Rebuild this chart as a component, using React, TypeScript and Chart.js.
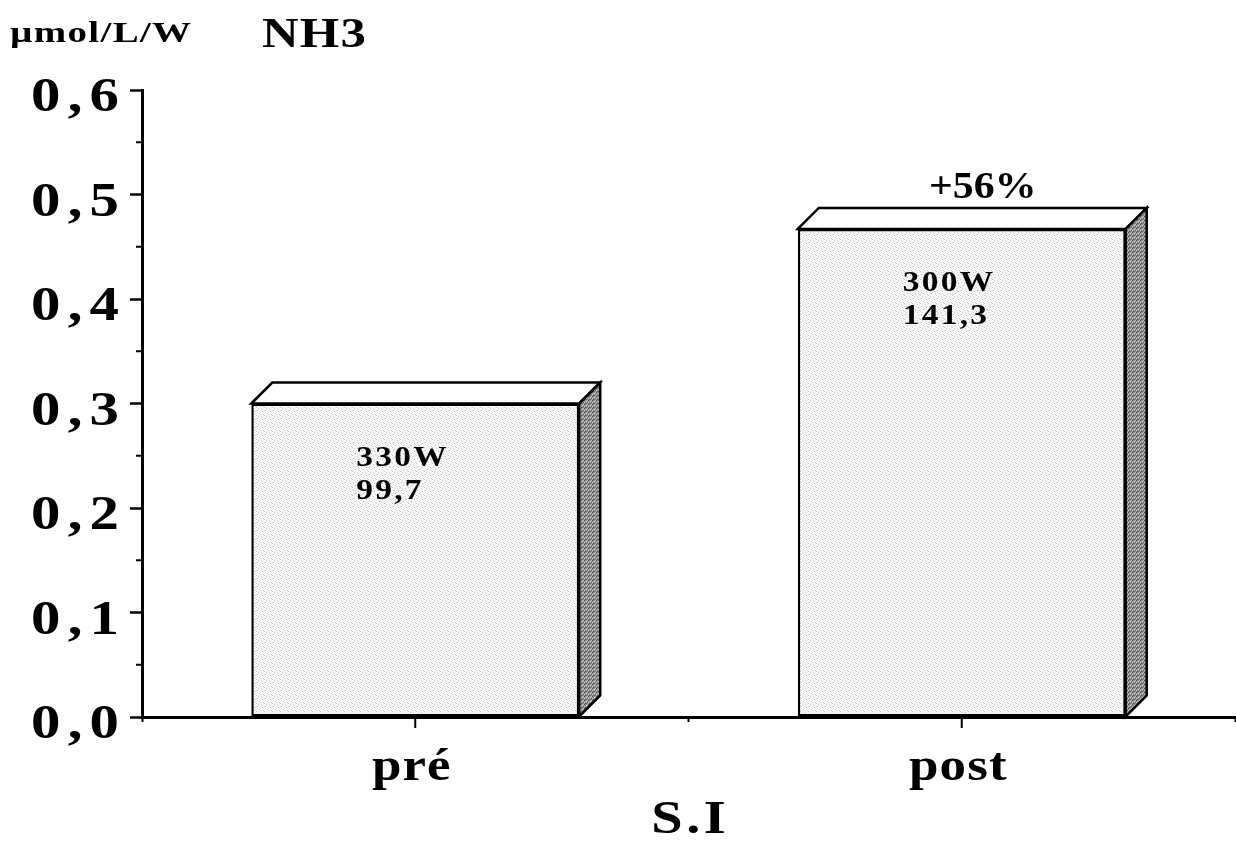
import React, { useEffect, useRef } from 'react';
import { Chart, registerables } from 'chart.js';

Chart.register(...registerables);

const categories = ['pré', 'post'];
const values = [0.3, 0.467];
const powerLabels = ['330W', '300W'];
const rawLabels = ['99,7', '141,3'];
const changeLabels = ['', '+56%'];
const yMin = 0;
const yMax = 0.6;
const yStep = 0.1;
const unitLabel = 'µmol/L/W';
const chartTitle = 'NH3';
const xTitle = 'S.I';

const FONT = "'Liberation Serif', 'Times New Roman', serif";
const DEPTH = 21;

function makePattern(bg: string, dots: [number, number, string][], size: number) {
  const c = document.createElement('canvas');
  c.width = size;
  c.height = size;
  const g = c.getContext('2d') as CanvasRenderingContext2D;
  g.fillStyle = bg;
  g.fillRect(0, 0, size, size);
  dots.forEach(([x, y, col]) => {
    g.fillStyle = col;
    g.fillRect(x, y, 1, 1);
  });
  const ctx = document.createElement('canvas').getContext('2d') as CanvasRenderingContext2D;
  return ctx.createPattern(c, 'repeat') as CanvasPattern;
}

// draw horizontally stretched text (the reference lettering is wide)
function drawText(
  ctx: CanvasRenderingContext2D,
  text: string,
  x: number,
  y: number,
  size: number,
  align: 'left' | 'center' | 'right',
  sx: number,
  spacing: number,
  baseline: CanvasTextBaseline = 'alphabetic'
) {
  ctx.save();
  ctx.font = `bold ${size}px ${FONT}`;
  (ctx as any).letterSpacing = '0px';
  const natural = ctx.measureText(text).width;
  const w = (natural + spacing * (Array.from(text).length - 1)) * sx;
  const left = align === 'center' ? x - w / 2 : align === 'right' ? x - w : x;
  ctx.translate(left, y);
  ctx.scale(sx, 1);
  (ctx as any).letterSpacing = `${spacing}px`;
  ctx.textAlign = 'left';
  ctx.textBaseline = baseline;
  ctx.fillStyle = '#000';
  ctx.fillText(text, 0, 0);
  ctx.restore();
}

export default function App() {
  const ref = useRef<HTMLCanvasElement | null>(null);

  useEffect(() => {
    const canvas = ref.current;
    if (!canvas) return;

    const frontPattern = makePattern(
      '#f6f6f6',
      [
        [1, 2, '#b5b5b5'],
        [5, 0, '#cfcfcf'],
        [3, 5, '#bdbdbd'],
        [7, 6, '#d5d5d5'],
        [0, 7, '#c4c4c4'],
        [6, 3, '#b0b0b0'],
        [2, 0, '#e0e0e0'],
        [4, 2, '#dedede'],
      ],
      8
    );
    const sidePattern = makePattern(
      '#959595',
      [
        [0, 0, '#454545'],
        [2, 1, '#d0d0d0'],
        [1, 3, '#555555'],
        [3, 2, '#606060'],
        [0, 2, '#c8c8c8'],
        [3, 0, '#bdbdbd'],
        [2, 3, '#6f6f6f'],
      ],
      4
    );

    const bar3d = {
      id: 'bar3d',
      afterDatasetsDraw(chart: any) {
        const ctx = chart.ctx as CanvasRenderingContext2D;
        const meta = chart.getDatasetMeta(0);
        meta.data.forEach((bar: any, i: number) => {
          const { x, y, base, width } = bar.getProps(['x', 'y', 'base', 'width'], true);
          const l = x - width / 2;
          const r = x + width / 2;
          ctx.save();
          ctx.lineWidth = 2.5;
          ctx.strokeStyle = '#000';
          ctx.lineJoin = 'miter';
          ctx.beginPath();
          ctx.moveTo(l, y);
          ctx.lineTo(l + DEPTH, y - DEPTH);
          ctx.lineTo(r + DEPTH, y - DEPTH);
          ctx.lineTo(r, y);
          ctx.closePath();
          ctx.fillStyle = '#ffffff';
          ctx.fill();
          ctx.stroke();
          ctx.beginPath();
          ctx.moveTo(r, y);
          ctx.lineTo(r + DEPTH, y - DEPTH);
          ctx.lineTo(r + DEPTH, base - DEPTH);
          ctx.lineTo(r, base);
          ctx.closePath();
          ctx.fillStyle = sidePattern;
          ctx.fill();
          ctx.stroke();
          ctx.restore();

          drawText(ctx, powerLabels[i], x - 59, y + 62, 29, 'left', 1.15, 2);
          drawText(ctx, rawLabels[i], x - 59, y + 95, 29, 'left', 1.15, 2);
          if (changeLabels[i]) {
            drawText(ctx, changeLabels[i], x + DEPTH, y - 31, 38, 'center', 1.1, 0);
          }
        });
      },
      afterDraw(chart: any) {
        const ctx = chart.ctx as CanvasRenderingContext2D;
        const ys = chart.scales.y;
        const xs = chart.scales.x;
        const area = chart.chartArea;
        ctx.save();
        ctx.strokeStyle = '#000';
        ctx.lineWidth = 2;
        // minor y ticks
        for (let v = yMin + yStep / 2; v < yMax; v += yStep) {
          const py = ys.getPixelForValue(v);
          ctx.beginPath();
          ctx.moveTo(area.left - 6, py);
          ctx.lineTo(area.left, py);
          ctx.stroke();
        }
        // category centre ticks
        categories.forEach((_, i) => {
          const px = xs.getPixelForValue(i);
          ctx.beginPath();
          ctx.moveTo(px, area.bottom);
          ctx.lineTo(px, area.bottom + 11);
          ctx.stroke();
        });
        ctx.restore();

        // y tick labels
        ys.ticks.forEach((t: any) => {
          const py = ys.getPixelForValue(t.value);
          const label = Number(t.value).toFixed(1).replace('.', ',');
          drawText(ctx, label, area.left - 23, py + 21, 49, 'right', 1.2, 6);
        });
        // x tick labels
        categories.forEach((c, i) => {
          const px = xs.getPixelForValue(i);
          drawText(ctx, c, px - 4, area.bottom + 63, 46, 'center', 1.15, 1);
        });
        // axis title
        drawText(ctx, xTitle, (area.left + area.right) / 2, area.bottom + 116, 47, 'center', 1.2, 3);
        // titles
        drawText(ctx, unitLabel, 10, 42, 30, 'left', 1.3, 1);
        drawText(ctx, chartTitle, 262, 47, 43, 'left', 1.18, 1);
      },
    };

    const chart = new Chart(canvas, {
      type: 'bar',
      data: {
        labels: categories,
        datasets: [
          {
            data: values,
            backgroundColor: frontPattern as any,
            borderColor: '#000',
            borderWidth: 2.5,
            borderSkipped: false,
            barPercentage: 0.6,
            categoryPercentage: 1,
          },
        ],
      },
      options: {
        responsive: false,
        animation: false,
        devicePixelRatio: 1,
        layout: { padding: { top: 90, right: 1, left: 0, bottom: 0 } },
        plugins: {
          legend: { display: false },
          tooltip: { enabled: false },
          title: { display: false },
        },
        scales: {
          x: {
            offset: true,
            afterFit: (s: any) => {
              s.height = 124;
            },
            border: { display: true, color: '#000', width: 3 },
            grid: {
              offset: true,
              drawOnChartArea: false,
              drawTicks: true,
              tickLength: 5,
              tickColor: '#000',
              tickWidth: 2,
            },
            ticks: { display: false },
            title: { display: false },
          },
          y: {
            min: yMin,
            max: yMax,
            afterFit: (s: any) => {
              s.width = 142;
            },
            border: { display: true, color: '#000', width: 3 },
            grid: {
              drawOnChartArea: false,
              drawTicks: true,
              tickLength: 12,
              tickColor: '#000',
              tickWidth: 2.5,
            },
            ticks: {
              display: false,
              stepSize: yStep,
            },
          },
        },
      },
      plugins: [bar3d],
    });

    return () => chart.destroy();
  }, []);

  return (
    <div style={{ position: 'fixed', left: 0, top: 0, width: 1236, height: 841, background: '#fff' }}>
      <canvas ref={ref} width={1236} height={841} style={{ width: 1236, height: 841, display: 'block' }} />
    </div>
  );
}
